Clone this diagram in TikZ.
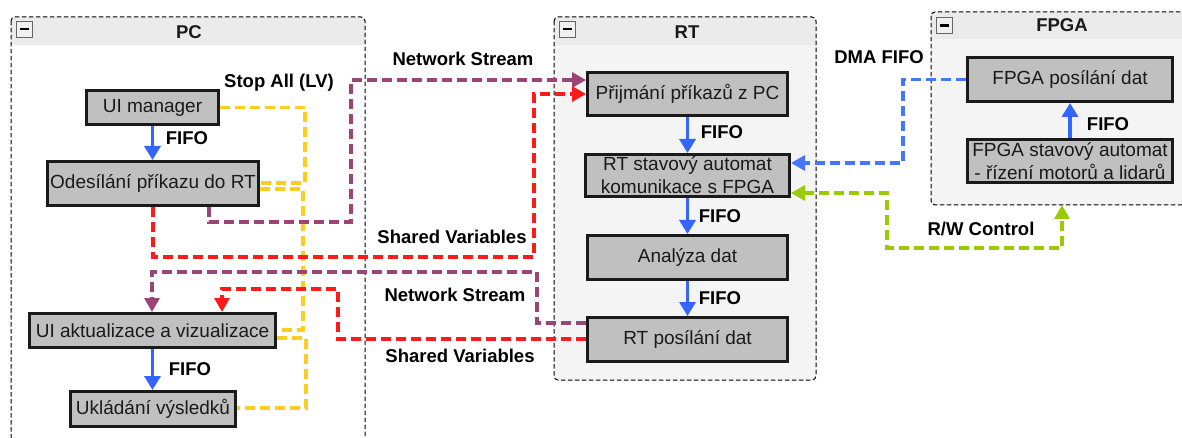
\documentclass[tikz,border=0pt]{standalone}
\usepackage{fontspec}
\setmainfont{Liberation Sans}
\usetikzlibrary{arrows.meta}
\definecolor{boxgray}{HTML}{C0C0C0}
\definecolor{hdrgray}{HTML}{EBEBEB}
\definecolor{bodygray}{HTML}{F4F4F4}
\definecolor{fifoblue}{HTML}{3366FF}
\definecolor{dmablue}{HTML}{4477FF}
\definecolor{nspurple}{HTML}{9C4475}
\definecolor{svred}{HTML}{FF1A1A}
\definecolor{stopyel}{HTML}{FFCC22}
\definecolor{rwgreen}{HTML}{99CC00}
\definecolor{inkdark}{HTML}{1A1A1A}
\tikzset{
  proc/.style={draw=inkdark, line width=2.8pt, fill=boxgray, text=inkdark, inner sep=0pt, align=center},
  lbl/.style={font=\bfseries\fontsize{18.5}{22}\selectfont, inner sep=0pt, text=black},
  ttl/.style={font=\bfseries\fontsize{18.5}{22}\selectfont, inner sep=0pt, text=inkdark},
  fifo/.style={draw=fifoblue, line width=3.8pt, -{Triangle[width=16pt,length=14pt]}},
  link/.style={line width=3.1pt, dash pattern=on 10pt off 5pt},
  linktip/.style={-{Triangle[width=15pt,length=14pt]}},
  cont/.style={draw=black, line width=1pt, dash pattern=on 4.5pt off 2.5pt, rounded corners=4pt},
  minusbox/.style={draw=black!60, fill=black!6, line width=0.9pt, minimum size=16pt, inner sep=0pt,
    path picture={\draw[line width=2.2pt, black] ([xshift=-4.5pt]path picture bounding box.center) -- ([xshift=4.5pt]path picture bounding box.center);}}
}
\begin{document}
\begin{tikzpicture}[x=1pt,y=-1pt,font=\fontsize{19}{23}\selectfont]
\path[use as bounding box] (0,0) rectangle (1182,438);
\clip (0,0) rectangle (1182,438);
\fill[white] (0,0) rectangle (1182,438);

% ---------- containers ----------
% PC
\fill[white, rounded corners=4pt] (11,17) rectangle (365,470);
\begin{scope}
  \clip[rounded corners=4pt] (11,17) rectangle (365,470);
  \fill[hdrgray] (11,17) rectangle (365,45);
\end{scope}
\draw[cont] (11,17) rectangle (365,470);
\node[ttl] (pct) at (189,32) {PC};
\node[minusbox] (pcm) at (24,29) {};
% RT
\fill[bodygray, rounded corners=4pt] (554,17) rectangle (816,380);
\begin{scope}
  \clip[rounded corners=4pt] (554,17) rectangle (816,380);
  \fill[hdrgray] (554,17) rectangle (816,45);
\end{scope}
\draw[cont] (554,17) rectangle (816,380);
\node[ttl] (rtt) at (687,32) {RT};
\node[minusbox] (rtm) at (567.5,29) {};
% FPGA
\fill[bodygray, rounded corners=4pt] (931,12) rectangle (1200,205);
\begin{scope}
  \clip[rounded corners=4pt] (931,12) rectangle (1200,205);
  \fill[hdrgray] (931,12) rectangle (1200,39);
\end{scope}
\draw[cont] (931,12) rectangle (1200,205);
\node[ttl] (fpt) at (1062,25) {FPGA};
\node[minusbox] (fpm) at (944,25.5) {};
\coordinate (fpgabot) at (1062,205);

% ---------- process nodes ----------
\node[proc, minimum width=132.2pt, minimum height=34.2pt] (uim) at (152.5,107.5) {UI manager};
\node[proc, minimum width=211.2pt, minimum height=44.2pt] (ode) at (153,183.5) {Odesílání příkazu do RT};
\node[proc, minimum width=246.2pt, minimum height=34.2pt] (uia) at (152.5,330.5) {UI aktualizace a vizualizace};
\node[proc, minimum width=165.2pt, minimum height=35.2pt] (ukl) at (153,409) {Ukládání výsledků};
\node[proc, minimum width=200.2pt, minimum height=43.2pt] (pri) at (687.5,94) {Přijmání příkazů z PC};
\node[proc, minimum width=204.2pt, minimum height=42.2pt] (rts) at (687.5,175.5) {RT stavový automat\\komunikace s FPGA};
\node[proc, minimum width=200.2pt, minimum height=44.2pt] (ana) at (687.5,257.5) {Analýza dat};
\node[proc, minimum width=200.2pt, minimum height=44.2pt] (rtp) at (687.5,339.5) {RT posílání dat};
\node[proc, minimum width=205.2pt, minimum height=44.2pt] (fpo) at (1070,79.5) {FPGA posílání dat};
\node[proc, minimum width=205.2pt, minimum height=43.2pt] (fst) at (1070,161) {FPGA stavový automat\\- řízení motorů a lidarů};

% ---------- FIFO arrows ----------
\draw[fifo] (uim.south) -- (uim.south |- ode.north);
\draw[fifo] (uia.south) -- (uia.south |- ukl.north);
\draw[fifo] (pri.south) -- (pri.south |- rts.north);
\draw[fifo] (rts.south) -- (rts.south |- ana.north);
\draw[fifo] (ana.south) -- (ana.south |- rtp.north);
\draw[fifo] (fst.north) -- (fst.north |- fpo.south);
\node[lbl] (f1) at (187,138) {FIFO};
\node[lbl] (f2) at (190,369) {FIFO};
\node[lbl] (f3) at (722,132) {FIFO};
\node[lbl] (f4) at (720,216) {FIFO};
\node[lbl] (f5) at (720,298) {FIFO};
\node[lbl] (f6) at (1108,124) {FIFO};

% ---------- Stop All (yellow) ----------
\draw[link, stopyel] (uim.east) -- (305,0 |- uim.east) -- (305,183) -- (ode.east |- 0,183);
\draw[link, stopyel] (ode.east |- 0,189) -- (303,189) -- (303,330) -- (uia.east |- 0,330);
\draw[link, stopyel] (uia.east |- 0,338) -- (306,338) -- (306,408) -- (ukl.east |- 0,408);
\node[lbl] (stop) at (279,83) {Stop All (LV)};

% ---------- PC -> RT ----------
\draw[link, nspurple, linktip] (209,0 |- ode.south) -- (209,222) -- (351,222) -- (351,80) -- (pri.west |- 0,80);
\draw[link, svred, linktip] (153,0 |- ode.south) -- (153,257) -- (534,257) -- (534,94) -- (pri.west |- 0,94);
\node[lbl] (ns1) at (463,59) {Network Stream};
\node[lbl] (sv1) at (452,237) {Shared Variables};

% ---------- RT -> PC ----------
\draw[link, nspurple, linktip] (rtp.west |- 0,323) -- (537,323) -- (537,272) -- (152,272) -- (152,0 |- uia.north);
\draw[link, svred, linktip] (rtp.west |- 0,339) -- (338,339) -- (338,289) -- (222,289) -- (222,0 |- uia.north);
\node[lbl] (ns2) at (455,295) {Network Stream};
\node[lbl] (sv2) at (460,356) {Shared Variables};

% ---------- RT <-> FPGA ----------
\draw[link, dmablue, linktip] (fpo.west) -- (903,0 |- fpo.west) -- (903,163) -- (rts.east |- 0,163);
\node[lbl] (dma) at (879,57) {DMA FIFO};
\draw[link, rwgreen, {Triangle[width=15pt,length=14pt]}-{Triangle[width=15pt,length=14pt]}] (rts.east |- 0,193) -- (887,193) -- (887,248) -- (1062,248) -- (fpgabot);
\node[lbl] (rw) at (981,229) {R/W Control};
\end{tikzpicture}
\end{document}
